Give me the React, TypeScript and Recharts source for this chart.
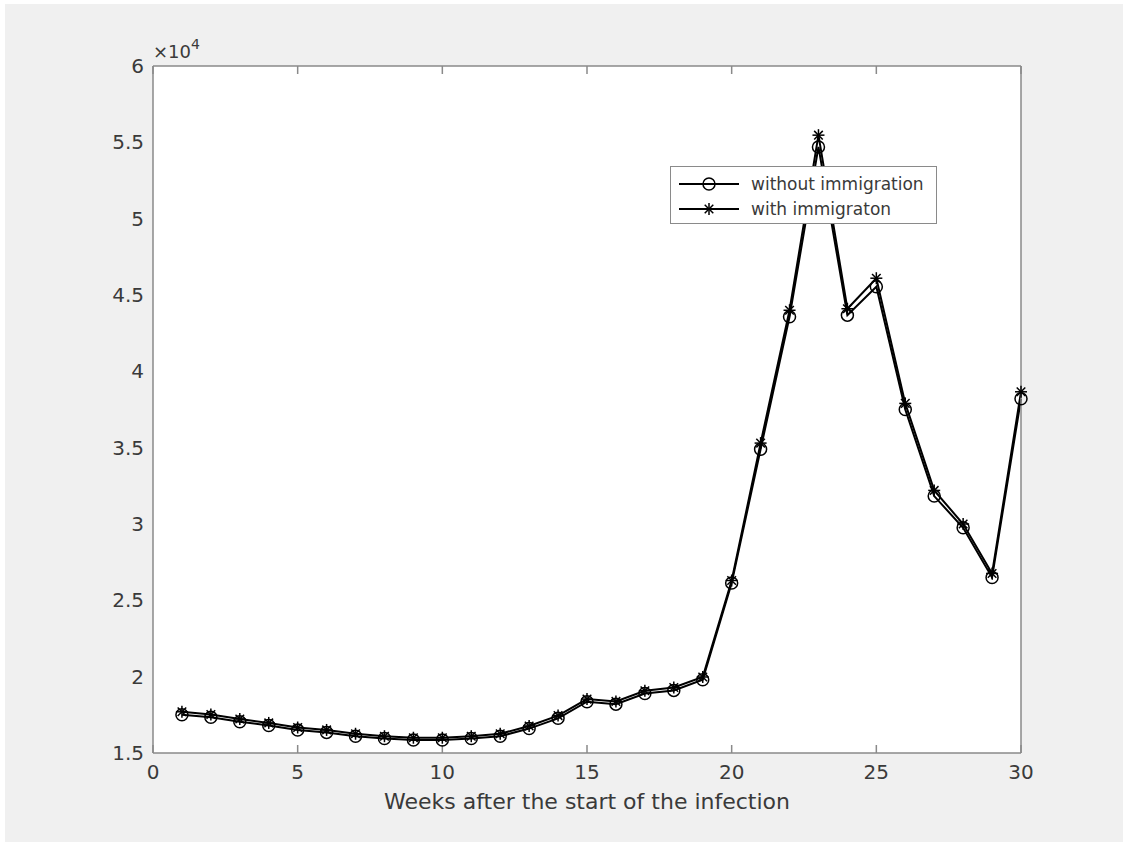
import React from 'react';
import { LineChart, Line, XAxis, YAxis, Legend, CartesianGrid } from 'recharts';

const weeks = Array.from({ length: 30 }, (_, i) => i + 1);
const withoutImmigration = [
  17500, 17340, 17050, 16800, 16500, 16350, 16100, 15950, 15850, 15850,
  15950, 16100, 16600, 17270, 18360, 18200, 18900, 19100, 19800, 26130,
  34900, 43570, 54700, 43680, 45540, 37500, 31830, 29750, 26500, 38200,
];
const withImmigration = [
  17700, 17520, 17230, 16970, 16670, 16510, 16260, 16100, 16000, 16000,
  16100, 16260, 16770, 17450, 18530, 18380, 19080, 19290, 19980, 26300,
  35300, 44000, 55470, 44100, 46100, 37900, 32200, 30000, 26760, 38660,
];
const xTicks = [0, 5, 10, 15, 20, 25, 30];
const yTicks = [15000, 20000, 25000, 30000, 35000, 40000, 45000, 50000, 55000, 60000];
const seriesNames = ['without immigration', 'with immigraton'];

const data = weeks.map((w, i) => ({
  week: w,
  without: withoutImmigration[i],
  with: withImmigration[i],
}));

const FONT = '"DejaVu Sans", sans-serif';
const AXIS = '#8a8a8a';
const TEXT = '#3a3a3a';

const CircleDot = (props: any) => {
  const { cx, cy } = props;
  if (cx == null || cy == null) return null;
  return <circle cx={cx} cy={cy} r={6} fill="none" stroke="#000" strokeWidth={1.5} />;
};

const StarDot = (props: any) => {
  const { cx, cy } = props;
  if (cx == null || cy == null) return null;
  const s = 6;
  const d = 4.3;
  return (
    <g stroke="#000" strokeWidth={1.5}>
      <line x1={cx - s} y1={cy} x2={cx + s} y2={cy} />
      <line x1={cx} y1={cy - s} x2={cx} y2={cy + s} />
      <line x1={cx - d} y1={cy - d} x2={cx + d} y2={cy + d} />
      <line x1={cx - d} y1={cy + d} x2={cx + d} y2={cy - d} />
    </g>
  );
};

const LegendBox = () => (
  <div style={{
    width: 265, height: 56, background: '#fff', border: `1px solid ${AXIS}`,
    fontFamily: FONT, fontSize: 17, color: TEXT, boxSizing: 'content-box',
  }}>
    {seriesNames.map((name, i) => (
      <div key={name} style={{ display: 'flex', alignItems: 'center', height: 25, marginTop: i === 0 ? 4 : 0 }}>
        <svg width={74} height={20} style={{ marginLeft: 6 }}>
          <line x1={2} y1={10} x2={62} y2={10} stroke="#000" strokeWidth={2} />
          {i === 0 ? <CircleDot cx={32} cy={10} /> : <StarDot cx={32} cy={10} />}
        </svg>
        <span>{name}</span>
      </div>
    ))}
  </div>
);

const ExponentLabel = (props: any) => {
  const vb = props.viewBox;
  if (!vb) return null;
  return (
    <text x={vb.x + vb.width} y={vb.y - 8} fill={TEXT} fontFamily={FONT} fontSize={18}>
      ×10<tspan dy={-9} fontSize={14}>4</tspan>
    </text>
  );
};

const NoLabel = () => <g />;

export default function App() {
  return (
    <div style={{ position: 'fixed', left: 0, top: 0, width: 1123, height: 842, background: '#fff' }}>
      <div style={{ position: 'absolute', left: 5, top: 4, width: 1118, height: 838, background: '#f0f0f0' }}>
        <LineChart
          width={1118}
          height={838}
          data={data}
          margin={{ top: 62, right: 102, bottom: 29, left: 98 }}
        >
          <CartesianGrid xAxisId="main" yAxisId="main" horizontal={false} vertical={false} fill="#fff" />
          <XAxis
            xAxisId="main" dataKey="week" type="number" domain={[0, 30]} ticks={xTicks}
            height={60} tickSize={0} tickMargin={12} stroke={AXIS} strokeWidth={1.5}
            tick={{ fill: TEXT, fontFamily: FONT, fontSize: 20 }}
            label={{ value: 'Weeks after the start of the infection', position: 'insideBottom', offset: 4, fill: TEXT, fontFamily: FONT, fontSize: 22 }}
          />
          <XAxis
            xAxisId="bottomTicks" dataKey="week" type="number" domain={[0, 30]} ticks={xTicks}
            orientation="bottom" mirror height={1} tick={<NoLabel />} axisLine={false} tickSize={8} stroke={AXIS} strokeWidth={1.5}
          />
          <XAxis
            xAxisId="top" dataKey="week" type="number" domain={[0, 30]} ticks={xTicks}
            orientation="top" mirror height={1} tick={<NoLabel />} tickSize={8} stroke={AXIS} strokeWidth={1.5}
          />
          <YAxis
            yAxisId="main" type="number" domain={[15000, 60000]} ticks={yTicks}
            width={50} tickSize={0} tickMargin={9} stroke={AXIS} strokeWidth={1.5}
            tickFormatter={(v: number) => String(v / 10000)}
            tick={{ fill: TEXT, fontFamily: FONT, fontSize: 20 }}
            label={<ExponentLabel />}
          />
          <YAxis
            yAxisId="leftTicks" type="number" domain={[15000, 60000]} ticks={yTicks}
            orientation="left" mirror width={1} tick={<NoLabel />} axisLine={false} tickSize={8} stroke={AXIS} strokeWidth={1.5}
          />
          <YAxis
            yAxisId="right" type="number" domain={[15000, 60000]} ticks={yTicks}
            orientation="right" mirror width={1} tick={<NoLabel />} tickSize={8} stroke={AXIS} strokeWidth={1.5}
          />
          <Legend
            layout="vertical" align="center" verticalAlign="middle"
            content={() => <LegendBox />}
            wrapperStyle={{ position: 'absolute', left: 665, top: 162, width: 'auto', height: 'auto' }}
          />
          <Line
            xAxisId="main" yAxisId="main" type="linear" dataKey="without" name={seriesNames[0]}
            stroke="#000" strokeWidth={2} dot={<CircleDot />} activeDot={false} isAnimationActive={false}
          />
          <Line
            xAxisId="main" yAxisId="main" type="linear" dataKey="with" name={seriesNames[1]}
            stroke="#000" strokeWidth={2} dot={<StarDot />} activeDot={false} isAnimationActive={false}
          />
        </LineChart>
      </div>
    </div>
  );
}
